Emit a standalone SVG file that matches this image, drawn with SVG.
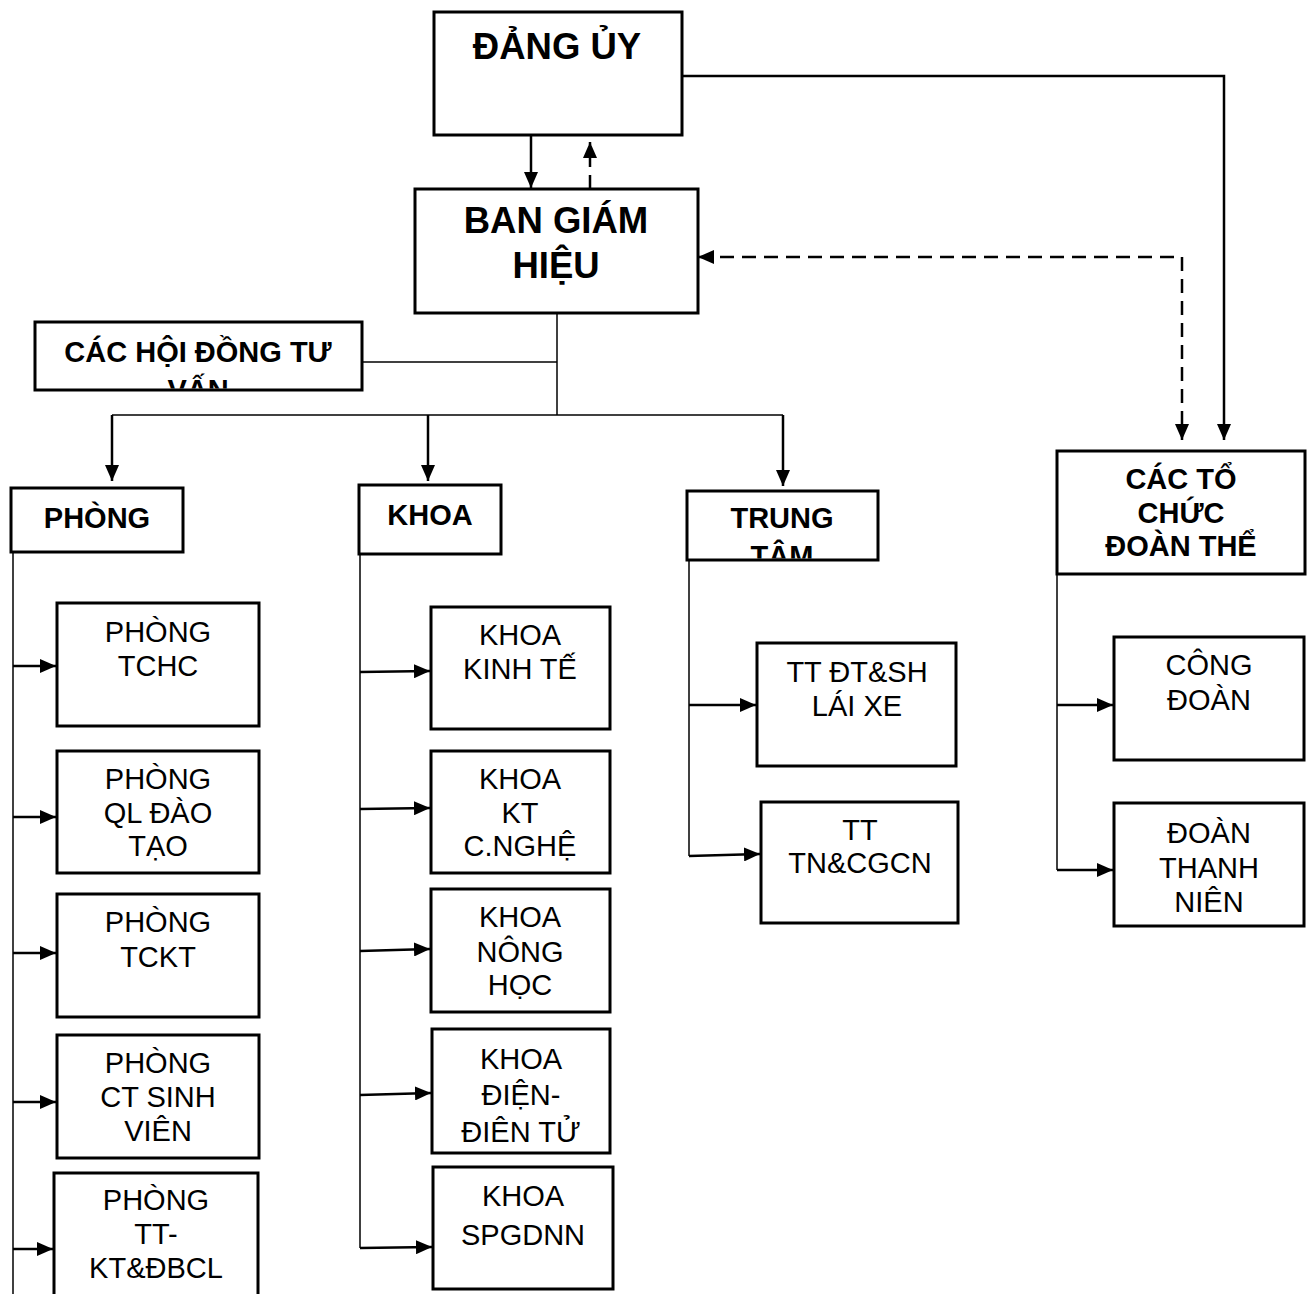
<svg xmlns="http://www.w3.org/2000/svg" width="1312" height="1294" viewBox="0 0 1312 1294">
<defs>
<style>
.box{fill:#fff;stroke:#000;stroke-width:3}
.t{font-family:"Liberation Sans",Arial,sans-serif;font-size:29px;text-anchor:middle;fill:#000}
.b{font-weight:bold}
.big{font-size:36.5px}
.a{fill:none;stroke:#000;stroke-width:2.5}
.thin{fill:none;stroke:#000;stroke-width:1.5}
.d{fill:none;stroke:#000;stroke-width:2.5;stroke-dasharray:14 8}
</style>
<marker id="ah" markerUnits="userSpaceOnUse" markerWidth="16" markerHeight="14" refX="16" refY="7" orient="auto-start-reverse" viewBox="0 0 16 14">
<path d="M0,0 L16,7 L0,14 z" fill="#000"/>
</marker>
<clipPath id="c-hd"><rect x="36.5" y="323.5" width="324" height="65"/></clipPath>
<clipPath id="c-tt"><rect x="688.5" y="492.5" width="188" height="66"/></clipPath>
<clipPath id="c-kd"><rect x="433.5" y="1030.5" width="175" height="112.5"/></clipPath>
</defs>
<rect width="1312" height="1294" fill="#fff"/>

<g id="connectors">
<line class="a" x1="531" y1="135" x2="531" y2="188" marker-end="url(#ah)"/>
<line class="d" x1="590" y1="189" x2="590" y2="142" marker-end="url(#ah)"/>
<polyline class="a" points="682,76 1224,76 1224,440" marker-end="url(#ah)"/>
<polyline class="d" points="698,257 1182,257 1182,440" marker-start="url(#ah)" marker-end="url(#ah)"/>
<line class="thin" x1="557" y1="313" x2="557" y2="415"/>
<line class="thin" x1="362" y1="362" x2="557" y2="362"/>
<line class="thin" x1="112" y1="415" x2="783" y2="415"/>
<line class="a" x1="112" y1="415" x2="112" y2="481" marker-end="url(#ah)"/>
<line class="a" x1="428" y1="415" x2="428" y2="481" marker-end="url(#ah)"/>
<line class="a" x1="783" y1="415" x2="783" y2="486" marker-end="url(#ah)"/>
<line class="thin" x1="13" y1="552" x2="13" y2="1294"/>
<line class="a" x1="13" y1="666" x2="56" y2="666" marker-end="url(#ah)"/>
<line class="a" x1="13" y1="817" x2="56" y2="817" marker-end="url(#ah)"/>
<line class="a" x1="13" y1="953" x2="56" y2="953" marker-end="url(#ah)"/>
<line class="a" x1="13" y1="1102" x2="56" y2="1102" marker-end="url(#ah)"/>
<line class="a" x1="13" y1="1249" x2="53" y2="1249" marker-end="url(#ah)"/>
<line class="thin" x1="360" y1="554" x2="360" y2="1248"/>
<line class="a" x1="360" y1="672" x2="430" y2="671" marker-end="url(#ah)"/>
<line class="a" x1="360" y1="809" x2="430" y2="808" marker-end="url(#ah)"/>
<line class="a" x1="360" y1="951" x2="430" y2="949" marker-end="url(#ah)"/>
<line class="a" x1="360" y1="1095" x2="431" y2="1093" marker-end="url(#ah)"/>
<line class="a" x1="360" y1="1248" x2="432" y2="1247" marker-end="url(#ah)"/>
<line class="thin" x1="689" y1="560" x2="689" y2="856"/>
<line class="a" x1="689" y1="705" x2="756" y2="705" marker-end="url(#ah)"/>
<line class="a" x1="689" y1="856" x2="760" y2="854" marker-end="url(#ah)"/>
<line class="thin" x1="1057" y1="574" x2="1057" y2="870"/>
<line class="a" x1="1057" y1="705" x2="1113" y2="705" marker-end="url(#ah)"/>
<line class="a" x1="1057" y1="870" x2="1113" y2="870" marker-end="url(#ah)"/>
</g>

<g id="dang-uy"><rect class="box" x="434" y="12" width="248" height="123"/><text class="t b big" x="557" y="59">ĐẢNG ỦY</text></g>
<g id="ban-giam-hieu"><rect class="box" x="415" y="189" width="283" height="124"/><text class="t b big" x="556" y="233">BAN GIÁM</text><text class="t b big" x="556" y="278">HIỆU</text></g>
<g id="hoi-dong"><rect class="box" x="35" y="322" width="327" height="68"/><g clip-path="url(#c-hd)"><text class="t b" x="198" y="362">CÁC HỘI ĐỒNG TƯ</text><text class="t b" x="198" y="400">VẤN</text></g></g>
<g id="phong"><rect class="box" x="11" y="488" width="172" height="64"/><text class="t b" x="97" y="528">PHÒNG</text></g>
<g id="khoa"><rect class="box" x="359" y="485" width="142" height="69"/><text class="t b" x="430" y="525">KHOA</text></g>
<g id="trung-tam"><rect class="box" x="687" y="491" width="191" height="69"/><g clip-path="url(#c-tt)"><text class="t b" x="782" y="528">TRUNG</text><text class="t b" x="782" y="566">TÂM</text></g></g>
<g id="to-chuc-doan-the"><rect class="box" x="1057" y="451" width="248" height="123"/><text class="t b" x="1181" y="489">CÁC TỔ</text><text class="t b" x="1181" y="523">CHỨC</text><text class="t b" x="1181" y="556">ĐOÀN THỂ</text></g>

<g id="phong-tchc"><rect class="box" x="57" y="603" width="202" height="123"/><text class="t" x="158" y="642">PHÒNG</text><text class="t" x="158" y="676">TCHC</text></g>
<g id="phong-qldt"><rect class="box" x="57" y="751" width="202" height="122"/><text class="t" x="158" y="789">PHÒNG</text><text class="t" x="158" y="823">QL ĐÀO</text><text class="t" x="158" y="856">TẠO</text></g>
<g id="phong-tckt"><rect class="box" x="57" y="894" width="202" height="123"/><text class="t" x="158" y="932">PHÒNG</text><text class="t" x="158" y="967">TCKT</text></g>
<g id="phong-ctsv"><rect class="box" x="57" y="1035" width="202" height="123"/><text class="t" x="158" y="1073">PHÒNG</text><text class="t" x="158" y="1107">CT SINH</text><text class="t" x="158" y="1141">VIÊN</text></g>
<g id="phong-tt"><rect class="box" x="54" y="1173" width="204" height="140"/><text class="t" x="156" y="1210">PHÒNG</text><text class="t" x="156" y="1244">TT-</text><text class="t" x="156" y="1278">KT&amp;ĐBCL</text></g>

<g id="khoa-kinh-te"><rect class="box" x="431" y="607" width="179" height="122"/><text class="t" x="520" y="645">KHOA</text><text class="t" x="520" y="679">KINH TẾ</text></g>
<g id="khoa-kt-cnghe"><rect class="box" x="431" y="751" width="179" height="122"/><text class="t" x="520" y="789">KHOA</text><text class="t" x="520" y="823">KT</text><text class="t" x="520" y="856">C.NGHỆ</text></g>
<g id="khoa-nong-hoc"><rect class="box" x="431" y="889" width="179" height="123"/><text class="t" x="520" y="927">KHOA</text><text class="t" x="520" y="962">NÔNG</text><text class="t" x="520" y="995">HỌC</text></g>
<g id="khoa-dien"><rect class="box" x="432" y="1029" width="178" height="124"/><g clip-path="url(#c-kd)"><text class="t" x="521" y="1069">KHOA</text><text class="t" x="521" y="1105">ĐIỆN-</text><text class="t" x="521" y="1142">ĐIỆN TỬ</text></g></g>
<g id="khoa-spgdnn"><rect class="box" x="433" y="1167" width="180" height="122"/><text class="t" x="523" y="1206">KHOA</text><text class="t" x="523" y="1245">SPGDNN</text></g>

<g id="tt-dtsh"><rect class="box" x="757" y="643" width="199" height="123"/><text class="t" x="857" y="682">TT ĐT&amp;SH</text><text class="t" x="857" y="716">LÁI XE</text></g>
<g id="tt-tncgcn"><rect class="box" x="761" y="802" width="197" height="121"/><text class="t" x="860" y="840">TT</text><text class="t" x="860" y="873">TN&amp;CGCN</text></g>

<g id="cong-doan"><rect class="box" x="1114" y="637" width="190" height="123"/><text class="t" x="1209" y="675">CÔNG</text><text class="t" x="1209" y="710">ĐOÀN</text></g>
<g id="doan-thanh-nien"><rect class="box" x="1114" y="803" width="190" height="123"/><text class="t" x="1209" y="843">ĐOÀN</text><text class="t" x="1209" y="878">THANH</text><text class="t" x="1209" y="912">NIÊN</text></g>
</svg>
